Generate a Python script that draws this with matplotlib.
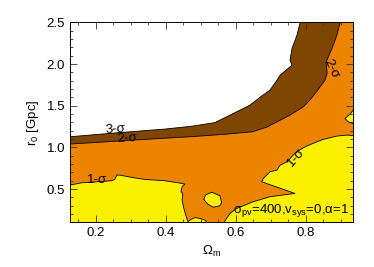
import matplotlib
matplotlib.use("Agg")
import matplotlib.pyplot as plt
from matplotlib.ticker import MultipleLocator

plt.rcParams['font.family'] = ['Liberation Sans', 'DejaVu Sans']
plt.rcParams['mathtext.fontset'] = 'custom'
plt.rcParams['mathtext.rm'] = 'Liberation Sans'
plt.rcParams['mathtext.it'] = 'Liberation Sans'
plt.rcParams['mathtext.sf'] = 'Liberation Sans'

# Axis ranges
x_range = [0.127, 0.935]
y_range = [0.1, 2.5]

# 3-sigma contour (white / brown boundary)
sig3_x = [0.127, 0.269, 0.398, 0.478, 0.541, 0.584, 0.641, 0.670, 0.698, 0.718,
          0.727, 0.761, 0.755, 0.761, 0.775, 0.784]
sig3_y = [1.128, 1.178, 1.220, 1.256, 1.298, 1.388, 1.508, 1.604, 1.688, 1.808,
          1.868, 1.988, 2.048, 2.190, 2.348, 2.500]

# 2-sigma contour (brown / orange boundary)
sig2_x = [0.127, 0.307, 0.469, 0.564, 0.649, 0.689, 0.755, 0.792, 0.812, 0.832,
          0.855, 0.861, 0.858, 0.875, 0.889, 0.898]
sig2_y = [1.040, 1.088, 1.128, 1.156, 1.188, 1.244, 1.388, 1.484, 1.568, 1.676,
          1.808, 1.892, 2.024, 2.190, 2.348, 2.500]

# 1-sigma regions (yellow)
sig1_left_x = [0.127, 0.161, 0.207, 0.246, 0.255, 0.261, 0.269, 0.304, 0.341, 0.398,
               0.435, 0.455, 0.447, 0.444, 0.449, 0.447, 0.452, 0.458, 0.464,
               0.470, 0.484, 0.498, 0.512, 0.518, 0.127]
sig1_left_y = [0.548, 0.576, 0.588, 0.600, 0.616, 0.668, 0.668, 0.640, 0.616, 0.600,
               0.576, 0.560, 0.528, 0.468, 0.448, 0.368, 0.268, 0.180, 0.108,
               0.130, 0.158, 0.148, 0.128, 0.100, 0.100]

sig1_island_x = [0.509, 0.514, 0.532, 0.555, 0.560, 0.555, 0.536, 0.520]
sig1_island_y = [0.376, 0.430, 0.462, 0.420, 0.340, 0.300, 0.282, 0.320]

sig1_right_x = [0.935, 0.918, 0.889, 0.849, 0.821, 0.798, 0.775, 0.764, 0.747, 0.727,
                0.718, 0.698, 0.679, 0.674, 0.769, 0.698, 0.650, 0.603, 0.584,
                0.574, 0.567, 0.935]
sig1_right_y = [1.142, 1.148, 1.136, 1.096, 1.048, 1.008, 0.948, 0.908, 0.828, 0.788,
                0.728, 0.708, 0.628, 0.588, 0.448, 0.408, 0.348, 0.268, 0.208,
                0.148, 0.100, 0.100]

sig1_edge_x = [0.935, 0.927, 0.912, 0.921, 0.935]
sig1_edge_y = [1.448, 1.400, 1.348, 1.308, 1.286]

c_yellow = '#FAF000'
c_orange = '#EC8400'
c_brown = '#7E4600'

fig = plt.figure(figsize=(3.74, 2.67), dpi=100)
ax = fig.add_axes([0.187, 0.167, 0.757, 0.749])

x0, x1 = x_range
y0, y1 = y_range

# brown region: below/right of 3-sigma
ax.fill(sig3_x + [x1, x1, x0], sig3_y + [y1, y0, y0], color=c_brown, lw=0)
# orange region: below/right of 2-sigma
ax.fill(sig2_x + [x1, x1, x0], sig2_y + [y1, y0, y0], color=c_orange, lw=0)
# yellow regions
for px, py in [(sig1_left_x, sig1_left_y), (sig1_right_x, sig1_right_y),
               (sig1_island_x, sig1_island_y), (sig1_edge_x, sig1_edge_y)]:
    ax.fill(px, py, color=c_yellow, lw=0)

# contour lines
lw = 0.6
ax.plot(sig3_x, sig3_y, color='black', lw=lw)
ax.plot(sig2_x, sig2_y, color='black', lw=lw)
ax.plot(sig1_left_x[:-1], sig1_left_y[:-1], color='black', lw=lw)
ax.plot(sig1_right_x[:-1], sig1_right_y[:-1], color='black', lw=lw)
ax.plot(sig1_island_x + sig1_island_x[:1], sig1_island_y + sig1_island_y[:1], color='black', lw=lw)
ax.plot(sig1_edge_x, sig1_edge_y, color='black', lw=lw)

fs = 9.5
# contour labels
ax.text(0.255, 1.215, '3-σ', fontsize=fs, ha='center', va='center', rotation=3)
ax.text(0.289, 1.110, '2-σ', fontsize=fs, ha='center', va='center', rotation=3)
ax.text(0.203, 0.605, '1-σ', fontsize=fs, ha='center', va='center')
ax.text(0.772, 0.880, '1-σ', fontsize=fs, ha='center', va='center', rotation=50)
ax.text(0.872, 1.948, '2-σ', fontsize=fs, ha='center', va='center', rotation=-65)

ax.text(0.592, 0.21, r'σ$_{\mathrm{pv}}$=400,v$_{\mathrm{sys}}$=0,α=1', fontsize=fs,
        ha='left', va='baseline')

ax.set_xlim(x_range)
ax.set_ylim(y_range)
ax.xaxis.set_major_locator(MultipleLocator(0.2))
ax.xaxis.set_minor_locator(MultipleLocator(0.05))
ax.yaxis.set_major_locator(MultipleLocator(0.5))
ax.yaxis.set_minor_locator(MultipleLocator(0.1))
ax.tick_params(which='both', direction='in', top=True, right=True, labelsize=fs,
               width=0.6, color='#333333')
ax.tick_params(which='major', length=5)
ax.tick_params(which='minor', length=2.5)
for s in ax.spines.values():
    s.set_linewidth(0.7)
ax.set_xlabel(r'Ω$_{\mathrm{m}}$', fontsize=fs, labelpad=3)
ax.set_ylabel(r'r$_{\mathrm{0}}$ [Gpc]', fontsize=fs, labelpad=4)

fig.savefig('out.png', dpi=100)
